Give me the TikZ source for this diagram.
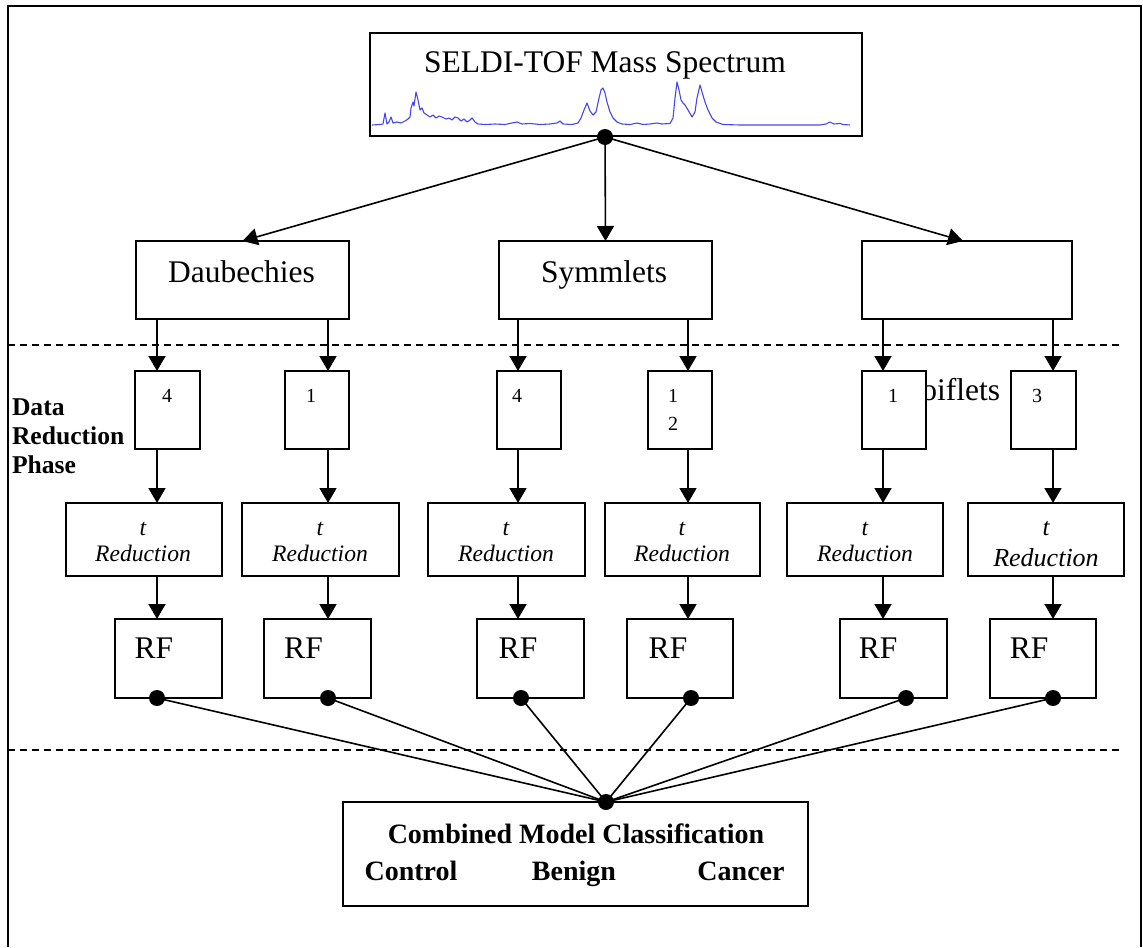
\documentclass[tikz,border=0pt]{standalone}
\usepackage{fontspec}
\setmainfont{Liberation Serif}
\usetikzlibrary{arrows.meta}
\definecolor{specblue}{RGB}{70,70,240}
\tikzset{
  box/.style={draw, line width=0.85pt, rectangle, inner sep=0pt, outer sep=0pt},
  wbox/.style={box, fill=white},
  lbl/.style={inner sep=0pt, outer sep=0pt, anchor=base},
  mainfont/.style={font=\fontsize{15.75}{18}\selectfont},
  numfont/.style={font=\fontsize{10}{12}\selectfont},
  tfont/.style={font=\fontsize{11.8}{13}\selectfont\itshape},
  boldfont/.style={font=\fontsize{14}{16}\selectfont\bfseries},
  arr/.style={line width=0.8pt, -{Triangle[length=7.5pt,width=8.5pt]}},
  conn/.style={line width=0.8pt},
  dotn/.style={circle, fill=black, inner sep=0pt, outer sep=0pt, minimum size=8pt},
  sepline/.style={dash pattern=on 3.5pt off 2.5pt, line width=0.65pt},
  spec/.style={color=specblue, line width=0.55pt, line join=round},
}
\begin{document}
\begin{tikzpicture}[x=0.5pt, y=-0.5pt]
\useasboundingbox (0,0) rectangle (1143,947);
% outer frame
\draw[line width=1.1pt] (8,947) -- (8,6) -- (1141,6) -- (1141,947);
% column coordinates
\coordinate (c1) at (157,0);
\coordinate (c2) at (328,0);
\coordinate (c3) at (518,0);
\coordinate (c4) at (688,0);
\coordinate (c5) at (883,0);
\coordinate (c6) at (1053,0);
\coordinate (c3d) at (521,0);
\coordinate (c4d) at (691,0);
\coordinate (c5d) at (906,0);
% top box
\node[box, minimum width=246pt, minimum height=51.5pt] (top) at (616,84.5) {};
\node[lbl, mainfont] (toptxt) at (605,73) {SELDI-TOF Mass Spectrum};
\draw[spec] (372,125) -- (380,124.5) -- (383,124) -- (385,113) -- (387,124) -- (389,122) -- (391,117) -- (393,123) -- (397,122) -- (401,123) -- (405,121) -- (408,119) -- (410,117) -- (411,108) -- (413,102) -- (414,106) -- (416,92) -- (418,100) -- (420,110) -- (422,108) -- (424,113) -- (427,115) -- (430,117) -- (433,115) -- (436,118) -- (439,116) -- (442,117) -- (446,119) -- (449,118) -- (452,120) -- (455,117) -- (458,118) -- (461,121) -- (464,119) -- (467,122) -- (470,120) -- (472,118) -- (475,122) -- (478,124) -- (485,124.5) -- (495,124) -- (505,124.5) -- (512,123) -- (517,122) -- (522,124) -- (530,123.5) -- (540,124.5) -- (550,124) -- (557,123) -- (560,121) -- (563,124) -- (572,124.5) -- (578,123) -- (581,118) -- (584,110) -- (587,103) -- (590,111) -- (593,115) -- (596,112) -- (599,98) -- (601,90) -- (603,88) -- (605,93) -- (607,102) -- (610,112) -- (613,118) -- (617,122) -- (622,124) -- (630,124.5) -- (637,123) -- (643,124.5) -- (650,124) -- (657,123) -- (662,124) -- (670,123.5) -- (673,118) -- (675,98) -- (677,82) -- (679,90) -- (681,100) -- (683,103) -- (685,105) -- (688,110) -- (692,117) -- (695,112) -- (697,98) -- (700,85) -- (702,92) -- (705,102) -- (708,110) -- (712,118) -- (716,122) -- (723,124.5) -- (740,125) -- (780,125) -- (820,125) -- (826,124) -- (830,122) -- (834,124) -- (840,123.5) -- (843,124.5) -- (850,125);
% level 2 boxes
\node[box, minimum width=106.5pt, minimum height=39pt] (daub) at (242.5,280) {};
\node[box, minimum width=106.5pt, minimum height=39pt] (symm) at (605.5,280) {};
\node[box, minimum width=105pt, minimum height=39pt] (coif) at (967,280) {};
\node[lbl, mainfont] (daubtxt) at (241.5,282) {Daubechies};
\node[lbl, mainfont] (symmtxt) at (604,282) {Symmlets};
% hub and arrows
\coordinate (hubc) at (605,137);
\draw[arr] (hubc) -- (daub.north);
\draw[arr] (hubc) -- (symm.north);
\draw[arr] (hubc) -- (coif.north -| 963,0);
\node[dotn] (hub) at (hubc) {};
% dashed separators
\draw[sepline] (8,345) -- (1120,345);
\draw[sepline] (8,750) -- (1120,750);
% partially hidden label
\node[lbl, mainfont, anchor=base east] (coiftxt) at (1000,400) {Coiflets};
% level 3 small boxes
\node[wbox, minimum width=32.5pt, minimum height=39pt] (d1) at (167.5,410) {};
\node[wbox, minimum width=32pt, minimum height=39pt] (d2) at (317,410) {};
\node[wbox, minimum width=32pt, minimum height=39pt] (s1) at (529,410) {};
\node[wbox, minimum width=32pt, minimum height=39pt] (s2) at (680,410) {};
\node[wbox, minimum width=32pt, minimum height=39pt] (k1) at (894,410) {};
\node[wbox, minimum width=32.5pt, minimum height=39pt] (k2) at (1043.5,410) {};
\node[lbl, numfont] (d1txt) at (167,402) {4};
\node[lbl, numfont] (d2txt) at (311,402) {1};
\node[lbl, numfont] (s1txt) at (517,402) {4};
\node[lbl, numfont] (s2txta) at (673,402) {1};
\node[lbl, numfont] (s2txtb) at (673,430) {2};
\node[lbl, numfont] (k1txt) at (893,402) {1};
\node[lbl, numfont] (k2txt) at (1037,402) {3};
% arrows level 2 -> 3
\draw[arr] (daub.south -| c1) -- (d1.north -| c1);
\draw[arr] (daub.south -| c2) -- (d2.north -| c2);
\draw[arr] (symm.south -| c3) -- (s1.north -| c3);
\draw[arr] (symm.south -| c4) -- (s2.north -| c4);
\draw[arr] (coif.south -| c5) -- (k1.north -| c5);
\draw[arr] (coif.south -| c6) -- (k2.north -| c6);
% Data Reduction Phase
\node[lbl, anchor=base west, font=\fontsize{12.8}{14.5}\selectfont\bfseries] (drp1) at (12,415) {Data};
\node[lbl, anchor=base west, font=\fontsize{12.8}{14.5}\selectfont\bfseries] (drp2) at (12,444) {Reduction};
\node[lbl, anchor=base west, font=\fontsize{12.8}{14.5}\selectfont\bfseries] (drp3) at (12,473) {Phase};
% t-Reduction boxes
\node[box, minimum width=78pt, minimum height=36.5pt] (t1) at (144,539.5) {};
\node[box, minimum width=78.5pt, minimum height=36.5pt] (t2) at (320.5,539.5) {};
\node[box, minimum width=78.5pt, minimum height=36.5pt] (t3) at (506.5,539.5) {};
\node[box, minimum width=77.5pt, minimum height=36.5pt] (t4) at (682.5,539.5) {};
\node[box, minimum width=78pt, minimum height=36.5pt] (t5) at (865,539.5) {};
\node[box, minimum width=78pt, minimum height=36.5pt] (t6) at (1046,539.5) {};
\foreach \n/\xx in {1/143, 2/320, 3/506, 4/682, 5/865}{
  \node[lbl, tfont] (t\n a) at (\xx,535) {t};
  \node[lbl, tfont] (t\n b) at (\xx,561) {Reduction};
}
\node[lbl, font=\fontsize{12.5}{14}\selectfont\itshape] (t6a) at (1046,535) {t};
\node[lbl, font=\fontsize{13}{14}\selectfont\itshape] (t6b) at (1046,566) {Reduction};
\draw[arr] (d1.south -| c1) -- (t1.north -| c1);
\draw[arr] (d2.south -| c2) -- (t2.north -| c2);
\draw[arr] (s1.south -| c3) -- (t3.north -| c3);
\draw[arr] (s2.south -| c4) -- (t4.north -| c4);
\draw[arr] (k1.south -| c5) -- (t5.north -| c5);
\draw[arr] (k2.south -| c6) -- (t6.north -| c6);
% RF boxes
\node[box, minimum width=53.5pt, minimum height=39.5pt] (rf1) at (168.5,658.5) {};
\node[box, minimum width=53.5pt, minimum height=39.5pt] (rf2) at (317.5,658.5) {};
\node[box, minimum width=53.5pt, minimum height=39.5pt] (rf3) at (530.5,658.5) {};
\node[box, minimum width=53pt, minimum height=39.5pt] (rf4) at (680,658.5) {};
\node[box, minimum width=53.5pt, minimum height=39.5pt] (rf5) at (893.5,658.5) {};
\node[box, minimum width=53pt, minimum height=39.5pt] (rf6) at (1043,658.5) {};
\foreach \n/\xx in {1/154, 2/303.5, 3/518, 4/668, 5/878, 6/1029}{
  \node[lbl, mainfont] (rf\n txt) at (\xx,658) {RF};
}
\draw[arr] (t1.south -| c1) -- (rf1.north -| c1);
\draw[arr] (t2.south -| c2) -- (rf2.north -| c2);
\draw[arr] (t3.south -| c3) -- (rf3.north -| c3);
\draw[arr] (t4.south -| c4) -- (rf4.north -| c4);
\draw[arr] (t5.south -| c5) -- (rf5.north -| c5);
\draw[arr] (t6.south -| c6) -- (rf6.north -| c6);
% bottom box
\node[box, minimum width=232.5pt, minimum height=52pt] (comb) at (575.5,854) {};
\node[lbl, boldfont] (combtxt) at (576,843) {Combined Model Classification};
\node[lbl, boldfont] (ctrl) at (411,880) {Control};
\node[lbl, boldfont] (benign) at (574,880) {Benign};
\node[lbl, boldfont] (cancer) at (741,880) {Cancer};
% dots and converging lines
\coordinate (bhubc) at (606,802);
\node[dotn] (p1) at (rf1.south -| c1) {};
\node[dotn] (p2) at (rf2.south -| c2) {};
\node[dotn] (p3) at (rf3.south -| c3d) {};
\node[dotn] (p4) at (rf4.south -| c4d) {};
\node[dotn] (p5) at (rf5.south -| c5d) {};
\node[dotn] (p6) at (rf6.south -| c6) {};
\foreach \n in {1,...,6}{
  \draw[conn] (p\n.center) -- (bhubc);
}
\node[dotn] (bhub) at (bhubc) {};
\end{tikzpicture}
\end{document}
